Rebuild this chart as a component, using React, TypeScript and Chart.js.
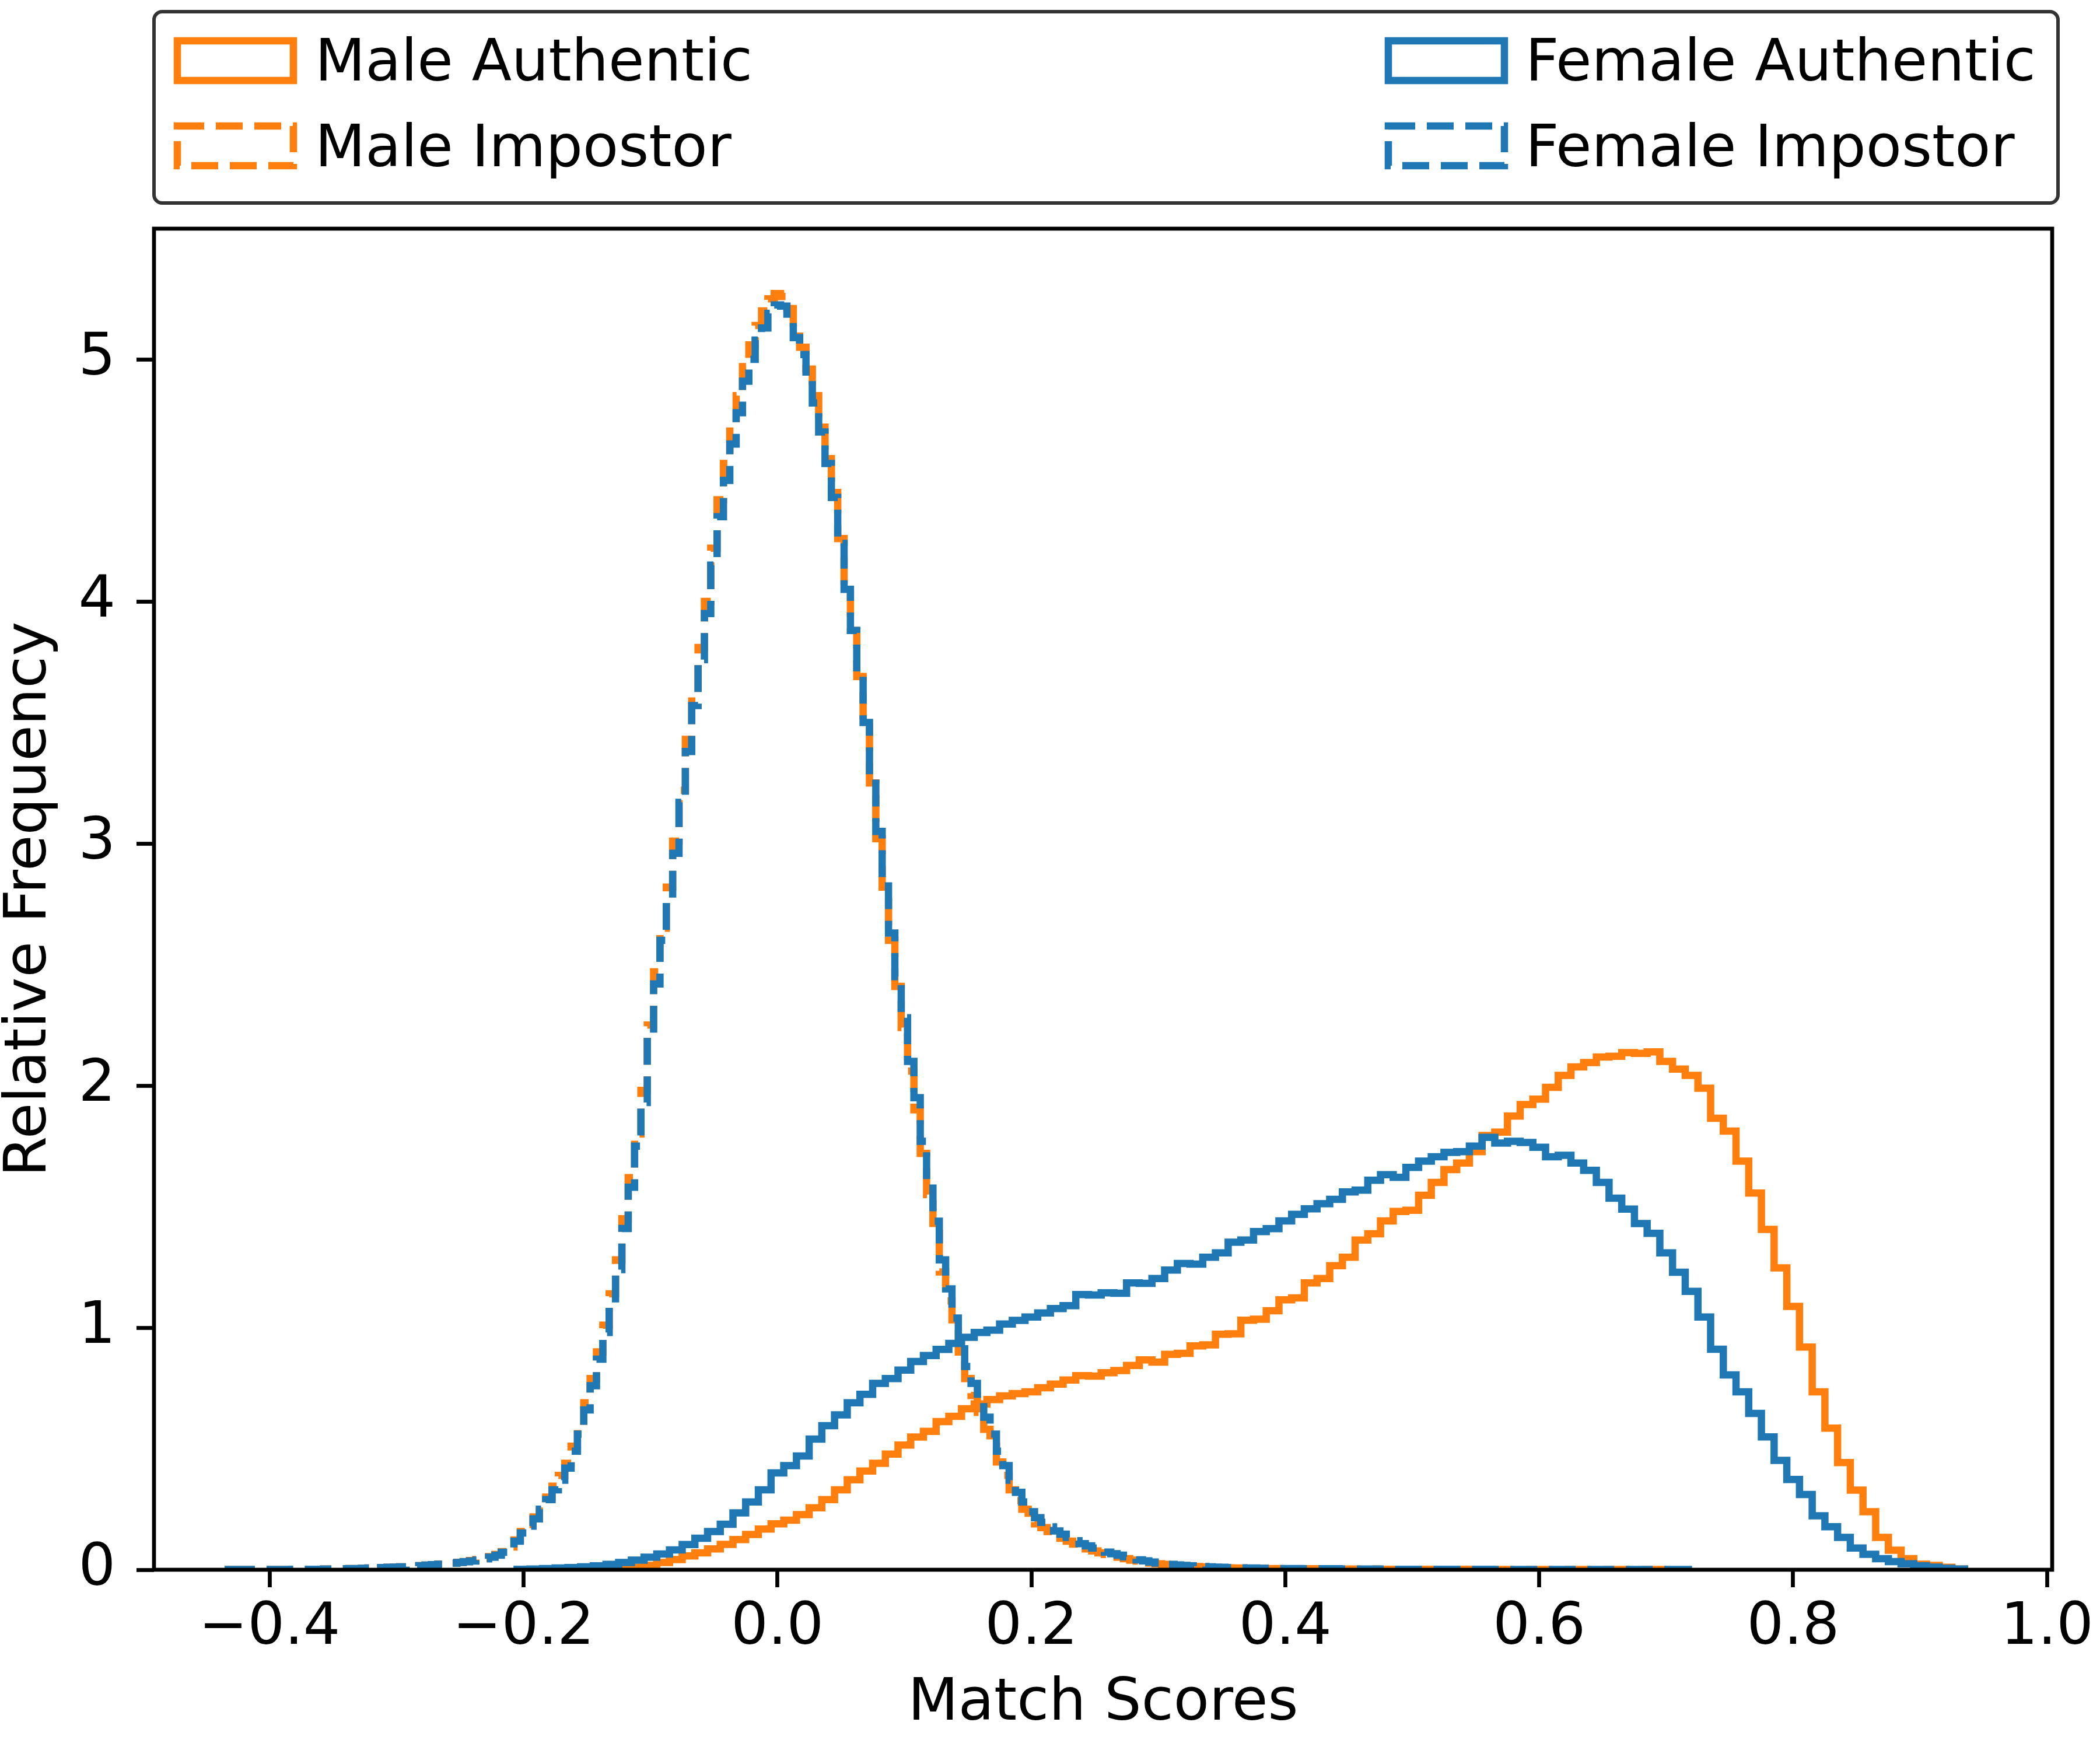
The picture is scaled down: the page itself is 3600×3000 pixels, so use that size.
import React, { useEffect, useRef } from 'react';
import { Chart, registerables } from 'chart.js';

Chart.register(...registerables);

// ---------------- data ----------------
const AUTH_BIN_WIDTH = 0.01;
const IMP_BIN_WIDTH = 0.005;

const seriesLabels = ['Male Authentic', 'Male Impostor', 'Female Authentic', 'Female Impostor'];

const maleAuthStart = -0.135;
const maleAuthValues = [
  0.002, 0.005, 0.01, 0.018, 0.03, 0.042, 0.057, 0.07, 0.086, 0.105, 0.125, 0.146, 0.168,
  0.19, 0.205, 0.228, 0.256, 0.29, 0.33, 0.372, 0.408, 0.44, 0.478,
  0.515, 0.548, 0.572, 0.612, 0.634, 0.665, 0.685, 0.703, 0.718, 0.728,
  0.735, 0.752, 0.767, 0.784, 0.802, 0.8, 0.814, 0.823, 0.844, 0.867,
  0.858, 0.89, 0.894, 0.925, 0.929, 0.973, 0.975, 1.031, 1.035, 1.07,
  1.115, 1.123, 1.185, 1.203, 1.256, 1.291, 1.362, 1.388, 1.441, 1.48,
  1.485, 1.547, 1.6, 1.653, 1.68, 1.727, 1.794, 1.808, 1.874, 1.922,
  1.944, 1.993, 2.042, 2.077, 2.095, 2.118, 2.121, 2.136, 2.133, 2.139,
  2.1, 2.068, 2.042, 1.989, 1.865, 1.812, 1.688, 1.556, 1.406, 1.247,
  1.088, 0.92, 0.735, 0.585, 0.443, 0.329, 0.24, 0.134, 0.081, 0.046,
  0.023, 0.018, 0.01, 0.003,
];

const femaleAuthStart = -0.205;
const femaleAuthValues = [
  0.002, 0.003, 0.005, 0.007, 0.009, 0.012, 0.016, 0.022, 0.03, 0.04,
  0.052, 0.065, 0.082, 0.104, 0.13, 0.158, 0.188, 0.235, 0.28, 0.33,
  0.4, 0.43, 0.47, 0.54, 0.595, 0.64, 0.69, 0.725, 0.77, 0.79,
  0.825, 0.86, 0.885, 0.91, 0.935, 0.96, 0.98, 0.99, 1.015, 1.03,
  1.044, 1.061, 1.079, 1.091, 1.137, 1.135, 1.144, 1.142, 1.185, 1.183,
  1.203, 1.238, 1.265, 1.263, 1.291, 1.309, 1.353, 1.362, 1.397, 1.409,
  1.441, 1.468, 1.491, 1.512, 1.53, 1.561, 1.568, 1.609, 1.632, 1.621,
  1.662, 1.688, 1.706, 1.724, 1.727, 1.75, 1.786, 1.763, 1.77, 1.765,
  1.745, 1.706, 1.712, 1.68, 1.65, 1.6, 1.535, 1.49, 1.43, 1.39,
  1.309, 1.229, 1.15, 1.044, 0.911, 0.805, 0.735, 0.646, 0.549, 0.452,
  0.373, 0.311, 0.223, 0.178, 0.134, 0.09, 0.064, 0.046, 0.034, 0.025,
  0.016, 0.011, 0.006, 0.003,
];

const maleImpStart = -0.4325;
const maleImpValues = [
  0.001, 0.001, 0.001, 0.001, 0.001, 0.001, 0.001, 0.001, 0.001, 0.001,
  0.002, 0.002, 0.002, 0.002, 0.002, 0.003, 0.003, 0.004, 0.004, 0.005,
  0.005, 0.006, 0.007, 0.008, 0.009, 0.01, 0.011, 0.012, 0.014, 0.015,
  0.017, 0.019, 0.021, 0.023, 0.025, 0.028, 0.031, 0.034, 0.038, 0.042,
  0.047, 0.054, 0.063, 0.075, 0.094, 0.123,
  0.158, 0.187, 0.218, 0.26, 0.3, 0.345, 0.39, 0.44, 0.51, 0.585,
  0.69, 0.79, 0.9, 1.01, 1.14, 1.28, 1.45, 1.62, 1.8, 1.98,
  2.25, 2.47, 2.65, 2.82, 3.01, 3.22, 3.43, 3.62, 3.81, 4.0,
  4.22, 4.42, 4.57, 4.72, 4.85, 4.97, 5.06, 5.14, 5.2, 5.25,
  5.272, 5.26, 5.21, 5.13, 5.05, 4.96, 4.85, 4.72, 4.59, 4.45,
  4.26, 4.06, 3.88, 3.69, 3.48, 3.25, 3.02, 2.82, 2.6, 2.41,
  2.24, 2.06, 1.9, 1.72, 1.55, 1.39, 1.23, 1.11, 0.99, 0.88,
  0.79, 0.72, 0.65, 0.58, 0.51, 0.445, 0.39, 0.33, 0.285, 0.25,
  0.215, 0.19, 0.174, 0.158, 0.142, 0.13, 0.118, 0.106, 0.095, 0.086,
  0.078, 0.07, 0.063, 0.057, 0.052, 0.046, 0.04, 0.036, 0.032, 0.028,
  0.025, 0.022, 0.02, 0.018, 0.016, 0.014, 0.013, 0.012, 0.011, 0.01,
  0.009, 0.008, 0.007, 0.007, 0.006, 0.006, 0.006, 0.005, 0.005, 0.005,
  0.005, 0.004, 0.004, 0.004, 0.004, 0.004, 0.004, 0.003, 0.003, 0.003,
  0.003, 0.003, 0.003, 0.003, 0.003, 0.002, 0.002, 0.002, 0.002, 0.002,
  0.002, 0.002, 0.002, 0.002, 0.002, 0.002, 0.002, 0.002, 0.002, 0.002,
  0.002, 0.001, 0.001, 0.001, 0.001, 0.001, 0.001, 0.001, 0.001, 0.001,
  0.001, 0.001, 0.001, 0.001, 0.001, 0.001, 0.001, 0.001, 0.001, 0.001,
  0.001, 0.001, 0.001, 0.001, 0.001, 0.001, 0.001, 0.001, 0.001, 0.001,
];

const femaleImpStart = -0.4325;
const femaleImpValues = [
  0.001, 0.001, 0.001, 0.001, 0.001, 0.001, 0.001, 0.001, 0.001, 0.001,
  0.002, 0.002, 0.002, 0.002, 0.002, 0.003, 0.003, 0.004, 0.004, 0.005,
  0.005, 0.006, 0.007, 0.008, 0.009, 0.01, 0.011, 0.012, 0.013, 0.015,
  0.017, 0.019, 0.021, 0.023, 0.025, 0.027, 0.03, 0.033, 0.036, 0.04,
  0.045, 0.052, 0.06, 0.072, 0.09, 0.118,
  0.152, 0.18, 0.21, 0.25, 0.29, 0.33, 0.37, 0.42, 0.49, 0.56,
  0.66, 0.76, 0.87, 0.98, 1.1, 1.24, 1.41, 1.58, 1.75, 1.93,
  2.2, 2.42, 2.6, 2.77, 2.96, 3.17, 3.38, 3.57, 3.76, 3.95,
  4.15, 4.35, 4.5, 4.65, 4.78, 4.91, 5.0, 5.08, 5.13, 5.19,
  5.225, 5.22, 5.17, 5.09, 5.02, 4.93, 4.82, 4.7, 4.57, 4.43,
  4.24, 4.05, 3.88, 3.7, 3.5, 3.27, 3.05, 2.85, 2.63, 2.45,
  2.28, 2.1, 1.95, 1.77, 1.6, 1.44, 1.28, 1.16, 1.04, 0.93,
  0.84, 0.77, 0.7, 0.63, 0.56, 0.49, 0.43, 0.37, 0.32, 0.28,
  0.24, 0.215, 0.196, 0.177, 0.16, 0.147, 0.134, 0.12, 0.108, 0.099,
  0.09, 0.081, 0.073, 0.066, 0.06, 0.053, 0.046, 0.041, 0.037, 0.032,
  0.028, 0.025, 0.022, 0.02, 0.018, 0.016, 0.015, 0.013, 0.012, 0.011,
  0.01, 0.009, 0.008, 0.008, 0.007, 0.007, 0.006, 0.006, 0.006, 0.005,
  0.005, 0.005, 0.005, 0.004, 0.004, 0.004, 0.004, 0.004, 0.004, 0.003,
  0.003, 0.003, 0.003, 0.003, 0.003, 0.003, 0.003, 0.002, 0.002, 0.002,
  0.002, 0.002, 0.002, 0.002, 0.002, 0.002, 0.002, 0.002, 0.002, 0.002,
  0.002, 0.002, 0.002, 0.001, 0.001, 0.001, 0.001, 0.001, 0.001, 0.001,
  0.001, 0.001, 0.001, 0.001, 0.001, 0.001, 0.001, 0.001, 0.001, 0.001,
  0.001, 0.001, 0.001, 0.001, 0.001, 0.001, 0.001, 0.001, 0.001, 0.001,
  0.001, 0.001, 0.001, 0.001,
];

const xTicks = [-0.4, -0.2, 0.0, 0.2, 0.4, 0.6, 0.8, 1.0];
const xTickLabels = ['\u22120.4', '\u22120.2', '0.0', '0.2', '0.4', '0.6', '0.8', '1.0'];
const yTicks = [0, 1, 2, 3, 4, 5];
const yTickLabels = ['0', '1', '2', '3', '4', '5'];

const X_MIN = -0.491;
const X_MAX = 1.004;
const Y_MIN = 0;
const Y_MAX = 5.54;

// ---------------- style ----------------
const ORANGE = '#ff7f0e';
const BLUE = '#1f77b4';
const FONT = '"DejaVu Sans", "Liberation Sans", sans-serif';
const LINE_W = 12.5;
const DASH = [46, 20];

function toSteps(start: number, width: number, values: number[]) {
  const pts: { x: number; y: number }[] = [{ x: start, y: 0 }];
  values.forEach((v, i) => pts.push({ x: start + i * width, y: v }));
  pts.push({ x: start + values.length * width, y: 0 });
  return pts;
}

const framePlugin = {
  id: 'mplFrame',
  afterDatasetsDraw(chart: any) {
    const { ctx, chartArea } = chart;
    ctx.save();
    ctx.strokeStyle = '#000';
    ctx.lineWidth = 6.7;
    ctx.lineJoin = 'miter';
    ctx.setLineDash([]);
    ctx.strokeRect(chartArea.left, chartArea.top, chartArea.right - chartArea.left, chartArea.bottom - chartArea.top);
    ctx.restore();
  },
};

const legendPlugin = {
  id: 'mplLegend',
  afterDraw(chart: any) {
    const { ctx } = chart;
    const box = { x: 264, y: 20, w: 3264, h: 328, r: 14 };
    ctx.save();
    ctx.beginPath();
    ctx.roundRect(box.x, box.y, box.w, box.h, box.r);
    ctx.fillStyle = '#ffffff';
    ctx.fill();
    ctx.lineWidth = 6;
    ctx.strokeStyle = '#333333';
    ctx.stroke();

    const colHandleX = [304, 2380];
    const colTextX = [540, 2615];
    const rowHandleY = [70, 216];
    const rowBaseline = [138, 285];
    const handleW = 199;
    const handleH = 68;
    const legendOrder = [0, 1, 2, 3];
    legendOrder.forEach((dsIndex, k) => {
      const ds = chart.data.datasets[dsIndex];
      const col = Math.floor(k / 2);
      const row = k % 2;
      ctx.save();
      ctx.lineWidth = LINE_W;
      ctx.strokeStyle = ds.borderColor;
      ctx.lineJoin = 'miter';
      ctx.setLineDash(ds.borderDash || []);
      ctx.strokeRect(colHandleX[col], rowHandleY[row], handleW, handleH);
      ctx.restore();
      ctx.fillStyle = '#000';
      ctx.font = `100px ${FONT}`;
      ctx.textAlign = 'left';
      ctx.textBaseline = 'alphabetic';
      ctx.fillText(ds.label, colTextX[col], rowBaseline[row]);
    });
    ctx.restore();
  },
};

export default function App() {
  const canvasRef = useRef<HTMLCanvasElement | null>(null);

  useEffect(() => {
    document.body.style.margin = '0';
    const canvas = canvasRef.current;
    if (!canvas) return;

    const datasets = [
      {
        label: seriesLabels[0],
        data: toSteps(maleAuthStart, AUTH_BIN_WIDTH, maleAuthValues),
        borderColor: ORANGE,
        borderDash: [] as number[],
        order: 4,
      },
      {
        label: seriesLabels[1],
        data: toSteps(maleImpStart, IMP_BIN_WIDTH, maleImpValues),
        borderColor: ORANGE,
        borderDash: DASH,
        order: 3,
      },
      {
        label: seriesLabels[2],
        data: toSteps(femaleAuthStart, AUTH_BIN_WIDTH, femaleAuthValues),
        borderColor: BLUE,
        borderDash: [] as number[],
        order: 2,
      },
      {
        label: seriesLabels[3],
        data: toSteps(femaleImpStart, IMP_BIN_WIDTH, femaleImpValues),
        borderColor: BLUE,
        borderDash: DASH,
        order: 1,
      },
    ].map((d) => ({
      ...d,
      type: 'line' as const,
      borderWidth: LINE_W,
      stepped: true,
      fill: false,
      pointRadius: 0,
      pointHoverRadius: 0,
      tension: 0,
      borderJoinStyle: 'miter' as const,
      borderCapStyle: 'butt' as const,
      backgroundColor: 'transparent',
    }));

    const tickFont = { family: FONT, size: 100, lineHeight: 1.2 };

    const chart = new Chart(canvas, {
      type: 'line',
      data: { datasets },
      options: {
        animation: false,
        responsive: false,
        devicePixelRatio: 1,
        events: [],
        layout: { padding: { left: 0, right: 70, top: 392, bottom: 0 } },
        plugins: {
          legend: { display: false },
          tooltip: { enabled: false },
        },
        scales: {
          x: {
            type: 'linear',
            min: X_MIN,
            max: X_MAX,
            afterFit: (s: any) => {
              s.height = 309;
            },
            afterBuildTicks: (s: any) => {
              s.ticks = xTicks.map((v) => ({ value: v }));
            },
            ticks: {
              autoSkip: false,
              maxRotation: 0,
              minRotation: 0,
              padding: 11,
              color: '#000',
              font: tickFont,
              callback: (_v: any, i: number) => xTickLabels[i],
            },
            grid: {
              display: true,
              drawOnChartArea: false,
              drawTicks: true,
              tickLength: 30,
              tickWidth: 6.7,
              tickColor: '#000',
            },
            border: { display: false },
            title: {
              display: true,
              text: 'Match Scores',
              color: '#000',
              font: { family: FONT, size: 100, lineHeight: 1 },
              padding: { top: 0, bottom: 28 },
            },
          },
          y: {
            type: 'linear',
            min: Y_MIN,
            max: Y_MAX,
            afterFit: (s: any) => {
              s.width = 264;
            },
            afterBuildTicks: (s: any) => {
              s.ticks = yTicks.map((v) => ({ value: v }));
            },
            ticks: {
              autoSkip: false,
              padding: 36,
              color: '#000',
              font: tickFont,
              callback: (_v: any, i: number) => yTickLabels[i],
            },
            grid: {
              display: true,
              drawOnChartArea: false,
              drawTicks: true,
              tickLength: 30,
              tickWidth: 6.7,
              tickColor: '#000',
            },
            border: { display: false },
            title: {
              display: true,
              text: 'Relative Frequency',
              color: '#000',
              font: { family: FONT, size: 100, lineHeight: 1 },
              padding: { top: 2, bottom: 0 },
            },
          },
        },
      },
      plugins: [framePlugin, legendPlugin],
    } as any);

    return () => {
      chart.destroy();
    };
  }, []);

  return (
    <div style={{ width: 3600, height: 3000, background: '#fff' }}>
      <canvas ref={canvasRef} width={3600} height={3000} style={{ display: 'block', width: 3600, height: 3000 }} />
    </div>
  );
}
